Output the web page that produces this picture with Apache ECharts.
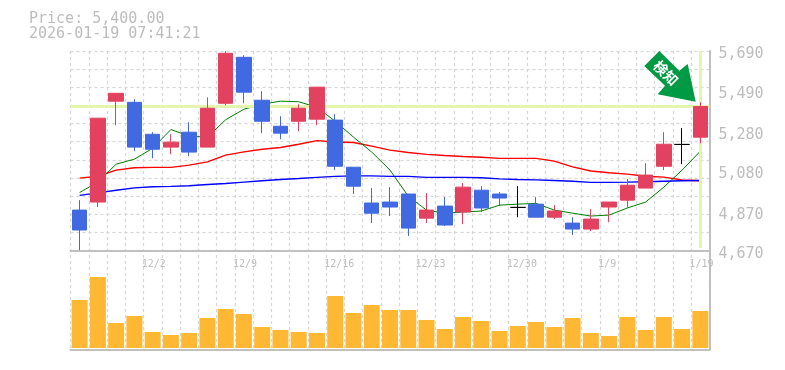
<!DOCTYPE html>
<html>
<head>
<meta charset="utf-8">
<style>html,body{margin:0;padding:0;background:#fff}#c{width:785px;height:370px}</style>
<script src="https://cdn.jsdelivr.net/npm/echarts@6/dist/echarts.min.js"></script>
</head>
<body>
<div id="c"></div>
<script>
const categories = ['11/26','11/27','11/28','12/1','12/2','12/3','12/4','12/5','12/8','12/9','12/10','12/11','12/12','12/15','12/16','12/17','12/18','12/19','12/22','12/23','12/24','12/25','12/26','12/29','12/30','1/5','1/6','1/7','1/8','1/9','1/13','1/14','1/15','1/16','1/19'];
// open, close, low, high
const ohlc = [
[4859,4755,4650,4911],[4901,5339,4875,5339],[5428,5469,5302,5469],[5422,5188,5167,5438],[5255,5177,5130,5266],
[5188,5214,5151,5255],[5266,5162,5141,5318],[5188,5391,5188,5448],[5417,5678,5407,5690],[5657,5475,5417,5668],
[5433,5323,5261,5480],[5297,5261,5229,5349],[5323,5391,5271,5412],[5334,5501,5302,5501],[5329,5088,5068,5360],
[5083,4984,4943,5083],[4896,4843,4791,4974],[4901,4875,4828,4979],[4943,4765,4724,4943],[4817,4859,4791,4948],
[4880,4781,4776,4927],[4849,4979,4786,5000],[4963,4870,4849,4984],[4943,4922,4880,4953],[4873,4873,4822,4984],
[4890,4822,4822,4927],[4822,4854,4812,4885],[4791,4760,4729,4822],[4760,4812,4750,4864],[4875,4901,4796,4901],
[4911,4989,4870,5021],[4974,5042,4974,5104],[5088,5203,5068,5266],[5202,5202,5099,5287],[5240,5400,5208,5422]
];
const maShort = [4951,5005,5099,5125,5182,5280,5245,5240,5331,5386,5412,5428,5425,5396,5323,5240,5162,5068,4932,4859,4843,4849,4854,4885,4890,4894,4859,4843,4828,4833,4870,4901,4979,5068,5167];
const maMid = [5026,5036,5068,5080,5082,5082,5094,5111,5146,5163,5177,5186,5203,5222,5215,5212,5193,5172,5160,5150,5144,5139,5135,5129,5129,5129,5115,5085,5063,5054,5047,5036,5031,5016,5012];
const maLong = [4936,4949,4963,4975,4981,4983,4986,4993,4998,5005,5012,5019,5024,5030,5035,5038,5038,5035,5035,5030,5030,5030,5028,5022,5019,5017,5014,5010,5004,5004,5005,5007,5010,5012,5014];
const volume = [48,71,25,32,16,13,15,30,39,34,21,18,16,15,52,35,43,38,38,28,19,31,27,17,22,26,21,30,15,12,31,18,31,19,37];
const priceTicks = [4670,4870,5080,5280,5490,5690];
const lastPrice = 5400;
const titleLines = ['Price: 5,400.00','2026-01-19 07:41:21'];

const MONO = '"DejaVu Sans Mono", monospace';
const GRID = '#d6d6d6', EDGE = '#c0c0c0', TXT = '#bdbdbd', HI = '#e4f5ae';
const dash = {color:GRID, type:[3,3], width:1.2};
const none = {show:false};

const chart = echarts.init(document.getElementById('c'), null, {renderer:'canvas'});
chart.setOption({
  animation:false,
  backgroundColor:'#fff',
  title:{left:29,top:12,padding:0,text:titleLines.join('\n'),textStyle:{fontFamily:MONO,fontSize:15,fontWeight:'normal',color:TXT,lineHeight:15}},
  grid:[
    {left:70.5,width:639,top:51,height:199.5},
    {left:70.5,width:639,top:250.5,height:99},
    {left:70.5,width:639,top:51,height:298.5}
  ],
  xAxis:[
    {type:'category',gridIndex:0,data:categories,axisLine:{show:true,onZero:false,lineStyle:{color:EDGE,width:2}},axisTick:none,axisLabel:none,splitLine:none},
    {type:'category',gridIndex:1,position:'bottom',data:categories,axisLine:{show:true,onZero:false,lineStyle:{color:EDGE,width:2}},axisTick:none,axisLabel:none,splitLine:none},
    {type:'category',gridIndex:1,position:'top',data:categories,axisLine:{show:false},axisTick:none,splitLine:none,
      axisLabel:{show:true,inside:true,margin:9,interval:(i)=>i%5===4,align:'left',padding:[0,0,0,-11],
        color:TXT,fontFamily:MONO,fontSize:10,showMaxLabel:true,hideOverlap:false}},
    {type:'value',gridIndex:2,min:0,max:categories.length,interval:1,axisLine:none,axisTick:none,axisLabel:none,splitLine:{show:true,lineStyle:dash}}
  ],
  yAxis:[
    {type:'value',gridIndex:0,min:4648,max:5690,show:false,splitLine:none},
    {type:'value',gridIndex:0,position:'right',min:4670,max:5690,axisLine:{show:true,lineStyle:{color:EDGE,width:2}},axisTick:none,splitLine:none,
      axisLabel:{show:true,margin:9,color:TXT,fontFamily:MONO,fontSize:15,customValues:priceTicks,verticalAlign:'top',padding:[-4,0,0,0],
        formatter:(v)=>Number(v).toLocaleString('en-US')}},
    {type:'value',gridIndex:0,min:0,max:11,interval:1,axisLine:none,axisTick:none,axisLabel:none,splitLine:{show:true,lineStyle:dash}},
    {type:'value',gridIndex:1,position:'right',min:-1.5,max:97.5,axisLine:{show:true,lineStyle:{color:EDGE,width:2}},axisTick:none,axisLabel:none,splitLine:none},
    {type:'value',gridIndex:2,min:0,max:1,axisLine:none,axisTick:none,axisLabel:none,splitLine:none}
  ],
  series:[
    {type:'line',xAxisIndex:0,yAxisIndex:0,data:[],silent:true,z:1,
      markLine:{silent:true,symbol:'none',label:{show:false},animation:false,lineStyle:{color:HI,width:3,type:'solid'},
        data:[{yAxis:lastPrice},[{coord:[categories.length-1,5690]},{coord:[categories.length-1,4660]}]]}},
    {type:'line',name:'MA long',xAxisIndex:0,yAxisIndex:0,data:maLong,symbol:'none',z:3,lineStyle:{color:'#0000ff',width:1.4}},
    {type:'line',name:'MA mid',xAxisIndex:0,yAxisIndex:0,data:maMid,symbol:'none',z:2,lineStyle:{color:'#ff0000',width:1.4}},
    {type:'line',name:'MA short',xAxisIndex:0,yAxisIndex:0,data:maShort,symbol:'none',z:2,lineStyle:{color:'#008000',width:1}},
    {type:'candlestick',xAxisIndex:0,yAxisIndex:0,z:5,barWidth:15,data:ohlc,
      itemStyle:{color:'#e2425f',color0:'#4169e1',borderColor:'#e2425f',borderColor0:'#4169e1',borderColorDoji:'#000000',borderWidth:1}},
    {type:'bar',xAxisIndex:1,yAxisIndex:3,barWidth:16,data:volume,itemStyle:{color:'#ffb833'},z:3},
    {type:'line',xAxisIndex:3,yAxisIndex:4,data:[],silent:true,z:1}
  ],
  graphic:[
    {type:'polygon',z:20,shape:{points:[[659.3,51],[644.3,66],[665,85.7],[657.7,94.3],[695.7,101.7],[687.7,64],[679.3,70.7]]},style:{fill:'#009a44'}},
    {type:'text',z:21,x:666,y:73,rotation:-Math.PI/4,style:{text:'検知',fill:'#fff',font:'bold 14px "Noto Sans CJK JP"',align:'center',verticalAlign:'middle'}}
  ]
});
</script>
</body>
</html>
